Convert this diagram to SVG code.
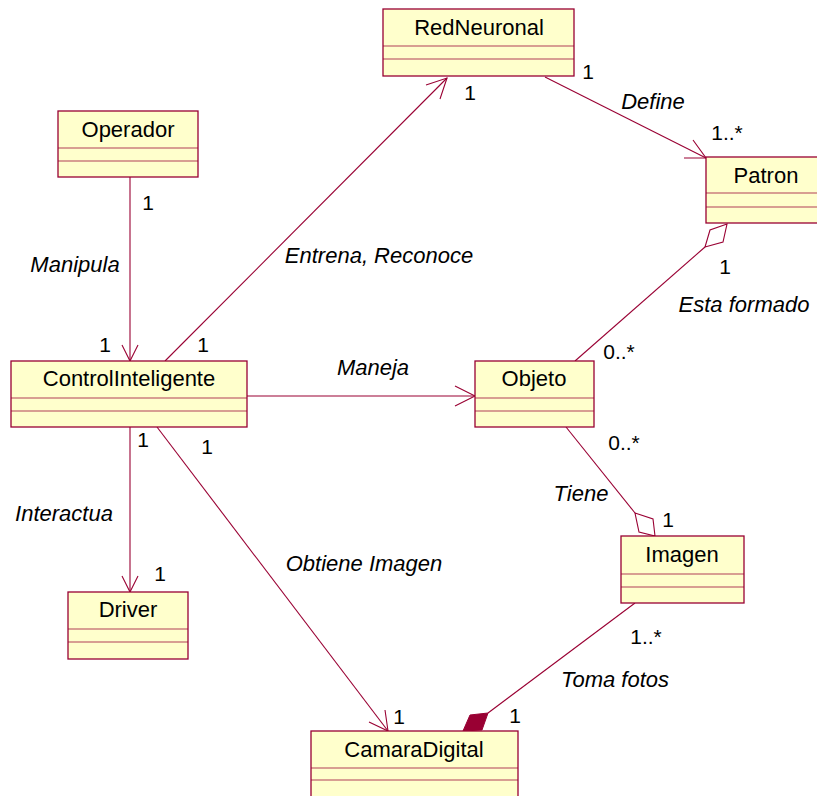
<svg xmlns="http://www.w3.org/2000/svg" width="817" height="796" viewBox="0 0 817 796">
  <style>
    .box { fill: #FFFFCC; stroke: #990033; stroke-width: 1.3; }
    .div { stroke: #990033; stroke-width: 1; opacity: 0.75; }
    .name { font-family: "Liberation Sans", Arial, sans-serif; font-size: 22px; fill: #000; text-anchor: middle; }
    .lbl { font-family: "Liberation Sans", Arial, sans-serif; font-size: 22px; font-style: italic; fill: #000; text-anchor: middle; }
    .mul { font-family: "Liberation Sans", Arial, sans-serif; font-size: 21px; fill: #000; text-anchor: middle; }
    .ln { fill: none; stroke: #990033; stroke-width: 1.1; }
    .agg { fill: #FFFFFF; stroke: #990033; stroke-width: 1.1; }
    .comp { fill: #990033; stroke: #990033; stroke-width: 1; }
  </style>
  <rect width="817" height="796" fill="#FFFFFF"/>

  <!-- connectors -->
  <g id="connectors">
    <!-- Operador -> ControlInteligente -->
    <line class="ln" x1="130" y1="177" x2="130" y2="361"/>
    <polyline class="ln" points="122,345 130,361 138,345"/>
    <!-- ControlInteligente -> RedNeuronal -->
    <line class="ln" x1="165" y1="361" x2="447" y2="78"/>
    <polyline class="ln" points="426,85 447,78 440,99"/>
    <!-- RedNeuronal -> Patron -->
    <line class="ln" x1="545" y1="77" x2="706" y2="158"/>
    <polyline class="ln" points="693,140 706,158 684,158"/>
    <!-- Objeto - Patron (aggregation) -->
    <line class="ln" x1="575" y1="361" x2="705" y2="247"/>
    <polygon class="agg" points="727,224 710,230 705,247 723,242"/>
    <!-- ControlInteligente -> Objeto -->
    <line class="ln" x1="247" y1="396" x2="475" y2="396"/>
    <polyline class="ln" points="455,386 475,396 455,406"/>
    <!-- Objeto - Imagen (aggregation) -->
    <line class="ln" x1="566" y1="427" x2="635" y2="513"/>
    <polygon class="agg" points="635,513 653,519 655,536 639,532"/>
    <!-- ControlInteligente -> Driver -->
    <line class="ln" x1="130" y1="427" x2="130" y2="592"/>
    <polyline class="ln" points="122,576 130,592 138,576"/>
    <!-- ControlInteligente -> CamaraDigital -->
    <line class="ln" x1="157" y1="427" x2="388" y2="731"/>
    <polyline class="ln" points="385,710 388,731 369,722"/>
    <!-- Imagen - CamaraDigital (composition) -->
    <line class="ln" x1="635" y1="603" x2="488" y2="713"/>
    <polygon class="comp" points="463,731 470,715 488,713 482,730"/>

    <!-- association labels -->
    <text class="mul" x="588" y="79">1</text>
    <text class="mul" x="470" y="100">1</text>
    <text class="lbl" x="653" y="109">Define</text>
    <text class="mul" x="727" y="140">1..*</text>
    <text class="mul" x="148" y="210">1</text>
    <text class="lbl" x="75" y="272">Manipula</text>
    <text class="lbl" x="379" y="263">Entrena, Reconoce</text>
    <text class="mul" x="725" y="274">1</text>
    <text class="lbl" x="744" y="312">Esta formado</text>
    <text class="mul" x="105" y="352">1</text>
    <text class="mul" x="203" y="352">1</text>
    <text class="mul" x="619" y="359">0..*</text>
    <text class="lbl" x="373" y="375">Maneja</text>
    <text class="mul" x="143" y="447">1</text>
    <text class="mul" x="207" y="454">1</text>
    <text class="mul" x="624" y="450">0..*</text>
    <text class="lbl" x="581" y="501">Tiene</text>
    <text class="lbl" x="64" y="521">Interactua</text>
    <text class="mul" x="668" y="527">1</text>
    <text class="lbl" x="364" y="571">Obtiene Imagen</text>
    <text class="mul" x="160" y="581">1</text>
    <text class="mul" x="646" y="644">1..*</text>
    <text class="lbl" x="615" y="687">Toma fotos</text>
    <text class="mul" x="399" y="724">1</text>
    <text class="mul" x="515" y="723">1</text>
  </g>

  <!-- classes -->
  <g id="RedNeuronal">
    <rect class="box" x="383" y="9" width="191" height="67"/>
    <line class="div" x1="383" y1="46" x2="574" y2="46"/>
    <line class="div" x1="383" y1="59" x2="574" y2="59"/>
    <text class="name" x="479" y="35">RedNeuronal</text>
  </g>
  <g id="Operador">
    <rect class="box" x="58" y="111" width="140" height="66"/>
    <line class="div" x1="58" y1="148" x2="198" y2="148"/>
    <line class="div" x1="58" y1="161" x2="198" y2="161"/>
    <text class="name" x="128" y="137">Operador</text>
  </g>
  <g id="Patron">
    <rect class="box" x="706" y="157" width="122" height="66"/>
    <line class="div" x1="706" y1="193" x2="828" y2="193"/>
    <line class="div" x1="706" y1="207" x2="828" y2="207"/>
    <text class="name" x="766" y="183">Patron</text>
  </g>
  <g id="ControlInteligente">
    <rect class="box" x="11" y="361" width="236" height="66"/>
    <line class="div" x1="11" y1="398" x2="247" y2="398"/>
    <line class="div" x1="11" y1="411" x2="247" y2="411"/>
    <text class="name" x="129" y="386">ControlInteligente</text>
  </g>
  <g id="Objeto">
    <rect class="box" x="475" y="361" width="119" height="66"/>
    <line class="div" x1="475" y1="398" x2="594" y2="398"/>
    <line class="div" x1="475" y1="411" x2="594" y2="411"/>
    <text class="name" x="534" y="386">Objeto</text>
  </g>
  <g id="Imagen">
    <rect class="box" x="621" y="536" width="123" height="67"/>
    <line class="div" x1="621" y1="574" x2="744" y2="574"/>
    <line class="div" x1="621" y1="587" x2="744" y2="587"/>
    <text class="name" x="682" y="562">Imagen</text>
  </g>
  <g id="Driver">
    <rect class="box" x="68" y="592" width="120" height="67"/>
    <line class="div" x1="68" y1="629" x2="188" y2="629"/>
    <line class="div" x1="68" y1="642" x2="188" y2="642"/>
    <text class="name" x="128" y="617">Driver</text>
  </g>
  <g id="CamaraDigital">
    <rect class="box" x="311" y="731" width="207" height="80"/>
    <line class="div" x1="311" y1="768" x2="518" y2="768"/>
    <line class="div" x1="311" y1="780" x2="518" y2="780"/>
    <text class="name" x="414" y="757">CamaraDigital</text>
  </g>
</svg>
